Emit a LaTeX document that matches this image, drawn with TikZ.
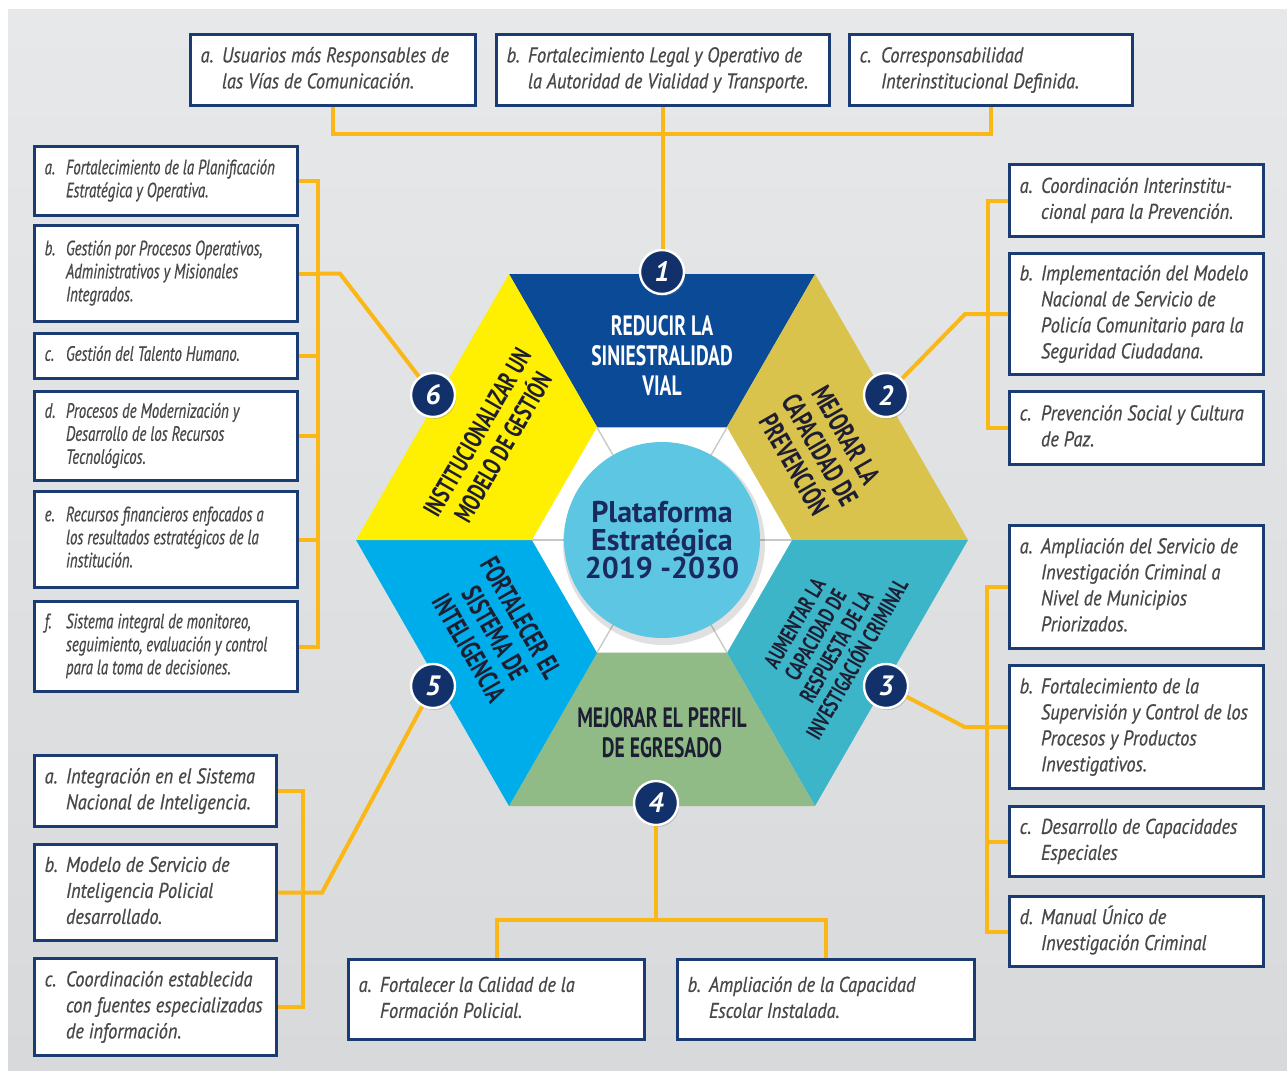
\documentclass[tikz,border=0pt]{standalone}
\usepackage{fontspec}
\usepackage{tikz}
\usetikzlibrary{shadows}

\newfontfamily\itemfont{PT Sans}[FakeStretch=0.86, FakeBold=0.6]
\newfontfamily\itemnarrowfont{PT Sans}[FakeStretch=0.72, FakeBold=0.6]
\newfontfamily\segfont{PT Sans}[FakeStretch=0.7]
\newfontfamily\hubfont{PT Sans}

\definecolor{navyline}{HTML}{1B3C73}
\definecolor{numnavy}{HTML}{12306A}
\definecolor{connyellow}{HTML}{FBB716}
\definecolor{itemgray}{HTML}{48484A}
\definecolor{segblue}{HTML}{0B4A97}
\definecolor{segolive}{HTML}{D9C34C}
\definecolor{segteal}{HTML}{3DB5C9}
\definecolor{seggreen}{HTML}{90BB86}
\definecolor{segsky}{HTML}{00ADEB}
\definecolor{segyellow}{HTML}{FFEF00}
\definecolor{segink}{HTML}{1E1E32}
\definecolor{hubcyan}{HTML}{5DC6E2}
\definecolor{hubink}{HTML}{1A2A5E}
\definecolor{bgtop}{HTML}{E7E8E9}
\definecolor{bgbot}{HTML}{D8D9DB}

\newlength{\entrywd}
% letter + lines, flush left over the width of the box text
\newcommand{\entry}[2]{\makebox[\entrywd][l]{\makebox[16pt][l]{#1}\begin{tabular}[t]{@{}l@{}}#2\end{tabular}}}

\begin{document}
\begin{tikzpicture}[
    x=0.75pt, y=-0.75pt,
    conn/.style={draw=connyellow, line width=3pt},
    item/.style={draw=navyline, line width=2.5pt, fill=white, inner sep=0pt, anchor=north west, text=itemgray,
        font=\itemfont\itshape\fontsize{16}{19.5}\selectfont, execute at begin node={\setlength{\entrywd}{#1}}},
    itemnarrow/.style={item=#1, font=\itemnarrowfont\itshape\fontsize{15.5}{17.25}\selectfont},
    numdot/.style={circle, fill=numnavy, draw=white, line width=1.8pt, minimum size=33pt, inner sep=0pt, text=white,
        font=\hubfont\bfseries\itshape\fontsize{21}{21}\selectfont, drop shadow={opacity=0.35, shadow xshift=1pt, shadow yshift=-1.5pt}},
    seglabel/.style={align=center, inner sep=0pt, text=segink, font=\segfont\bfseries\fontsize{21}{22.5}\selectfont},
    hub/.style={circle, fill=hubcyan, minimum size=147pt, inner sep=0pt, align=center, text=hubink,
        font=\hubfont\bfseries\fontsize{22.5}{21}\selectfont},
    bevel/.style={draw=black!22, line width=1pt}
]
\useasboundingbox (0,0) rectangle (1287,1070);
\fill[white] (0,0) rectangle (1287,1070);
\shade[top color=bgtop, bottom color=bgbot] (8,10) rectangle (1287,1070);

% hexagon
\coordinate (hc) at (662,540);
\coordinate (h0) at (968,540);
\coordinate (h1) at (815,274);
\coordinate (h2) at (509,274);
\coordinate (h3) at (356,540);
\coordinate (h4) at (509,806);
\coordinate (h5) at (815,806);
\foreach \a/\b/\col in {h1/h2/segblue, h0/h1/segolive, h5/h0/segteal, h4/h5/seggreen, h3/h4/segsky, h2/h3/segyellow}
    \fill[\col] (hc) -- (\a) -- (\b) -- cycle;
\fill[white] (792,540) -- (727,427.4) -- (597,427.4) -- (532,540) -- (597,652.6) -- (727,652.6) -- cycle;
\foreach \ang in {0,60,...,300}
    \draw[bevel] (hc) ++(\ang:98) -- ++(\ang:32);
\fill[black, opacity=0.12] (664,544) circle (101);
\node[hub] (hub) at (662,540) {Plataforma\\Estratégica\\2019 -2030};

% segment labels
\node[seglabel, text=white] (s1) at (662,356) {REDUCIR LA\\SINIESTRALIDAD\\VIAL};
\node[seglabel, rotate=-60] (s2) at (820,450) {MEJORAR LA\\CAPACIDAD DE\\PREVENCIÓN};
\node[seglabel, rotate=60, font=\segfont\bfseries\fontsize{17}{18}\selectfont] (s3) at (826,641) {AUMENTAR LA\\CAPACIDAD DE\\RESPUESTA DE LA\\INVESTIGACIÓN CRIMINAL};
\node[seglabel] (s4) at (662,733) {MEJORAR EL PERFIL\\DE EGRESADO};
\node[seglabel, rotate=-60] (s5) at (495,633) {FORTALECER EL\\SISTEMA DE\\INTELIGENCIA};
\node[seglabel, rotate=60, font=\segfont\bfseries\fontsize{19.5}{22.5}\selectfont] (s6) at (490,440) {INSTITUCIONALIZAR UN\\MODELO DE GESTIÓN};

% numbers
\node[numdot] (n1) at (662,272) {1};
\node[numdot] (n2) at (886,395) {2};
\node[numdot] (n3) at (886,686) {3};
\node[numdot] (n4) at (656,803) {4};
\node[numdot] (n5) at (433,686) {5};
\node[numdot] (n6) at (433,395) {6};

% top boxes
\node[item=198.75pt, minimum width=213.75pt, minimum height=53.25pt] (ta) at (189,33) {\entry{a.}{Usuarios más Responsables de\\las Vías de Comunicación.}};
\node[item=234.75pt, minimum width=249.75pt, minimum height=53.25pt] (tb) at (495,33) {\entry{b.}{Fortalecimiento Legal y Operativo de\\la Autoridad de Vialidad y Transporte.}};
\node[item=197.25pt, minimum width=212.25pt, minimum height=53.25pt] (tc) at (848,33) {\entry{c.}{Corresponsabilidad\\Interinstitucional Definida.}};

% left boxes (6)
\node[itemnarrow=182.25pt, minimum width=197.25pt, minimum height=51.75pt] (l6a) at (33,145) {\entry{a.}{Fortalecimiento de la Planificación\\Estratégica y Operativa.}};
\node[itemnarrow=182.25pt, minimum width=197.25pt, minimum height=72pt] (l6b) at (33,224) {\entry{b.}{Gestión por Procesos Operativos,\\Administrativos y Misionales\\Integrados.}};
\node[itemnarrow=182.25pt, minimum width=197.25pt, minimum height=33.75pt] (l6c) at (33,332) {\entry{c.}{Gestión del Talento Humano.}};
\node[itemnarrow=182.25pt, minimum width=197.25pt, minimum height=66.75pt] (l6d) at (33,390) {\entry{d.}{Procesos de Modernización y\\Desarrollo de los Recursos\\Tecnológicos.}};
\node[itemnarrow=182.25pt, minimum width=197.25pt, minimum height=72pt] (l6e) at (33,490) {\entry{e.}{Recursos financieros enfocados a\\los resultados estratégicos de la\\institución.}};
\node[itemnarrow=182.25pt, minimum width=197.25pt, minimum height=67.5pt] (l6f) at (33,600) {\entry{f.}{Sistema integral de monitoreo,\\seguimiento, evaluación y control\\para la toma de decisiones.}};

% right boxes (2)
\node[item=175.5pt, minimum width=190.5pt, minimum height=54pt] (r2a) at (1008,163) {\entry{a.}{Coordinación Interinstitu-\\cional para la Prevención.}};
\node[item=175.5pt, minimum width=190.5pt, minimum height=90.75pt] (r2b) at (1008,252) {\entry{b.}{Implementación del Modelo\\Nacional de Servicio de\\Policía Comunitario para la\\Seguridad Ciudadana.}};
\node[item=175.5pt, minimum width=190.5pt, minimum height=54.75pt] (r2c) at (1008,390) {\entry{c.}{Prevención Social y Cultura\\de Paz.}};

% right boxes (3)
\node[item=175.5pt, minimum width=190.5pt, minimum height=92.25pt] (r3a) at (1008,524) {\entry{a.}{Ampliación del Servicio de\\Investigación Criminal a\\Nivel de Municipios\\Priorizados.}};
\node[item=175.5pt, minimum width=190.5pt, minimum height=92.25pt] (r3b) at (1008,664) {\entry{b.}{Fortalecimiento de la\\Supervisión y Control de los\\Procesos y Productos\\Investigativos.}};
\node[item=175.5pt, minimum width=190.5pt, minimum height=52.5pt] (r3c) at (1008,805) {\entry{c.}{Desarrollo de Capacidades\\Especiales}};
\node[item=175.5pt, minimum width=190.5pt, minimum height=52.5pt] (r3d) at (1008,895) {\entry{d.}{Manual Único de\\Investigación Criminal}};

% left boxes (5)
\node[item=166.5pt, minimum width=181.5pt, minimum height=53.25pt] (l5a) at (33,754) {\entry{a.}{Integración en el Sistema\\Nacional de Inteligencia.}};
\node[item=166.5pt, minimum width=181.5pt, minimum height=72pt] (l5b) at (33,843) {\entry{b.}{Modelo de Servicio de\\Inteligencia Policial\\desarrollado.}};
\node[item=166.5pt, minimum width=181.5pt, minimum height=72.75pt] (l5c) at (33,957) {\entry{c.}{Coordinación establecida\\con fuentes especializadas\\de información.}};

% bottom boxes (4)
\node[item=207pt, minimum width=222pt, minimum height=60pt] (ba) at (347,958) {\entry{a.}{Fortalecer la Calidad de la\\Formación Policial.}};
\node[item=207.75pt, minimum width=222.75pt, minimum height=60pt] (bb) at (676,958) {\entry{b.}{Ampliación de la Capacidad\\Escolar Instalada.}};

% connectors
\coordinate (j1) at (661.5,134);
\draw[conn] (ta.south) |- (j1) -| (tc.south);
\draw[conn] (tb.south) -- (tb.south |- n1.north);

\coordinate (bus6) at (318,0);
\draw[conn] (l6a.east) -| (bus6 |- l6f.east) -- (l6f.east);
\foreach \b in {l6b,l6c,l6d,l6e}
    \draw[conn] (\b.east) -- (\b.east -| bus6);
\draw[conn] (l6b.east -| bus6) -- ++(22,0) -- (n6);

\coordinate (bus2) at (988,0);
\draw[conn] (r2a.west) -| (bus2 |- r2c.west) -- (r2c.west);
\draw[conn] (r2b.west) -- (r2b.west -| bus2) -- ++(-23,0) -- (n2);

\coordinate (bus3) at (987,0);
\draw[conn] (r3a.west) -| (bus3 |- r3d.west) -- (r3d.west);
\foreach \b in {r3b,r3c}
    \draw[conn] (\b.west) -- (\b.west -| bus3);
\draw[conn] (r3b.west -| bus3) -- ++(-22,0) -- (n3);

\coordinate (bus5) at (303,0);
\draw[conn] (l5a.east) -| (bus5 |- l5c.east) -- (l5c.east);
\draw[conn] (l5b.east) -- (l5b.east -| bus5) -- ++(19,0) -- (n5);

\coordinate (j4) at (656,920);
\draw[conn] (ba.north) |- (j4) -| (bb.north);
\draw[conn] (n4) -- (j4);
\end{tikzpicture}
\end{document}
